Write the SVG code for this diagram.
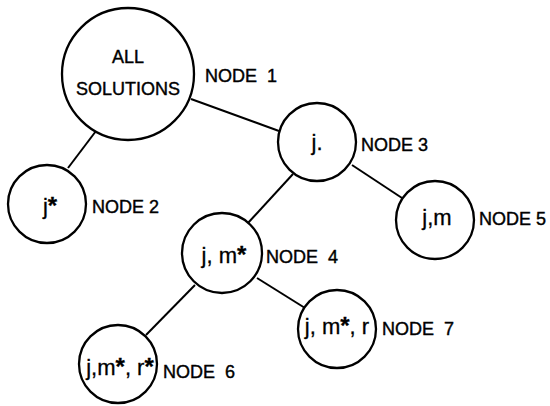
<svg xmlns="http://www.w3.org/2000/svg" width="550" height="406" viewBox="0 0 550 406">
<style>
.c{fill:#fff;stroke:#000;stroke-width:2.3}
.e{stroke:#000;stroke-width:2;fill:none}
.t{font-family:"Liberation Sans",Arial,sans-serif;font-size:18px;fill:#000;stroke:#000;stroke-width:0.4}
.n{font-family:"Liberation Sans",Arial,sans-serif;font-size:22px;fill:#000;stroke:#000;stroke-width:0.3;text-anchor:middle}
.ast{font-size:24px;font-weight:bold}
</style>
<rect width="550" height="406" fill="#fff"/>
<g id="connectors">
<line class="e" x1="96" y1="131" x2="68" y2="168"/>
<line class="e" x1="191" y1="99" x2="279" y2="131"/>
<line class="e" x1="352" y1="165" x2="402" y2="198"/>
<line class="e" x1="293" y1="174" x2="248" y2="223"/>
<line class="e" x1="257" y1="278" x2="305" y2="308"/>
<line class="e" x1="195" y1="285" x2="146" y2="335"/>
</g>
<g id="node1">
<circle class="c" cx="128" cy="74" r="66"/>
<text class="t" x="128" y="63" text-anchor="middle">ALL</text>
<text class="t" x="128" y="95" text-anchor="middle">SOLUTIONS</text>
<text class="t" x="205" y="82" xml:space="preserve">NODE  1</text>
</g>
<g id="node2">
<circle class="c" cx="47" cy="204" r="39"/>
<text class="n" x="50" y="214">j<tspan class="ast">*</tspan></text>
<text class="t" x="92" y="213">NODE 2</text>
</g>
<g id="node3">
<circle class="c" cx="317" cy="142" r="39"/>
<text class="n" x="317" y="150">j.</text>
<text class="t" x="361" y="151">NODE 3</text>
</g>
<g id="node4">
<circle class="c" cx="222" cy="253" r="40"/>
<text class="n" x="224" y="263">j, m<tspan class="ast">*</tspan></text>
<text class="t" x="266" y="263" xml:space="preserve">NODE  4</text>
</g>
<g id="node5">
<circle class="c" cx="435" cy="220" r="39"/>
<text class="n" x="437" y="225">j,m</text>
<text class="t" x="479" y="225">NODE 5</text>
</g>
<g id="node6">
<circle class="c" cx="118" cy="364" r="39"/>
<text class="n" x="120" y="375">j,m<tspan class="ast">*</tspan>, r<tspan class="ast">*</tspan></text>
<text class="t" x="163" y="378" xml:space="preserve">NODE  6</text>
</g>
<g id="node7">
<circle class="c" cx="337" cy="329" r="39"/>
<text class="n" x="337" y="334">j, m<tspan class="ast">*</tspan>, r</text>
<text class="t" x="382" y="335" xml:space="preserve">NODE  7</text>
</g>
</svg>
